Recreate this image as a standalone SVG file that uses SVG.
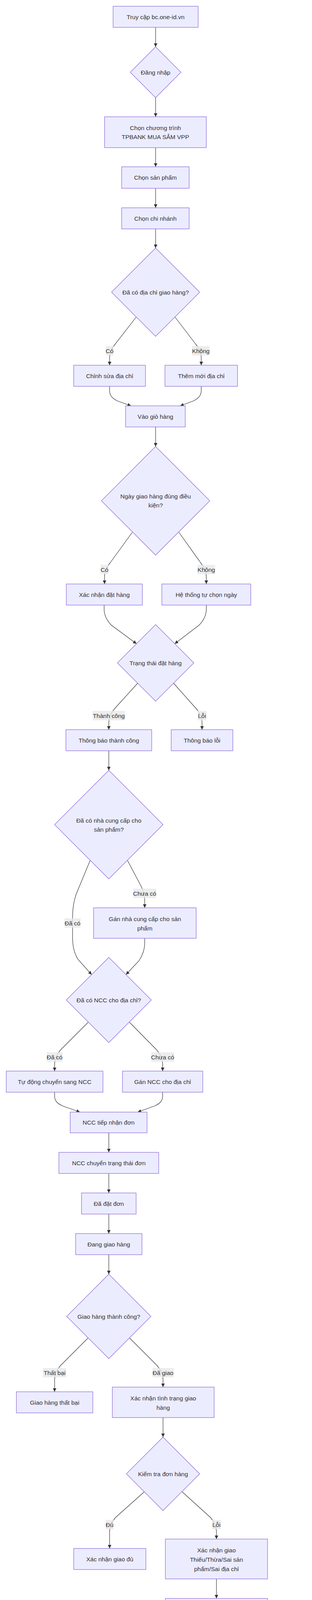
<svg xmlns="http://www.w3.org/2000/svg" width="800" height="4947" viewBox="0 0 800 4947">
<style>
.n rect,.n polygon{fill:#ECECFF;stroke:#9370DB;stroke-width:1.3}
text{font-family:"Liberation Sans",Arial,sans-serif;font-size:15.5px;fill:#333;text-anchor:middle}
.e path{fill:none;stroke:#333;stroke-width:1.2;marker-end:url(#arr)}
.l rect{fill:#e8e8e8;fill-opacity:0.8}
</style>
<defs>
<marker id="arr" viewBox="0 0 10 10" refX="10" refY="5" markerWidth="9" markerHeight="9" markerUnits="userSpaceOnUse" orient="auto">
<path d="M0,0 L10,5 L0,10 z" fill="#333"/>
</marker>
</defs>
<g id="connectors" class="e">
<path d="M399,70 L399,120"/>
<path d="M399,250 L399,299"/>
<path d="M399,378 L399,427"/>
<path d="M399,482 L399,532"/>
<path d="M399,586 L399,635"/>
<path d="M349,812 L296,880 Q281,898 281,916 L281,935"/>
<path d="M449,812 L501,880 Q516,898 516,916 L516,935"/>
<path d="M281,989 L281,1000 C281,1013 289,1020 300,1026 L336,1039"/>
<path d="M516,989 L516,1000 C516,1013 508,1020 497,1026 L462,1039"/>
<path d="M399,1093 L399,1143"/>
<path d="M339,1363 L283,1440 Q268,1458 268,1476 L268,1495"/>
<path d="M459,1363 L514,1440 Q529,1458 529,1476 L529,1495"/>
<path d="M267,1549 L267,1560 C267,1575 273,1587 285,1600 L350,1648"/>
<path d="M529,1549 L529,1560 C529,1575 523,1587 511,1600 L448,1648"/>
<path d="M353,1749 L294,1814 Q279,1832 279,1850 L279,1868"/>
<path d="M445,1749 L503,1814 Q518,1832 518,1850 L518,1868"/>
<path d="M279,1922 L279,1972"/>
<path d="M231,2203 L195,2290 C188,2310 186,2330 186,2350 L186,2400 C186,2420 190,2440 200,2456 L235,2495"/>
<path d="M327,2203 L362,2269 Q371,2287 371,2305 L371,2324"/>
<path d="M371,2402 L371,2415 C371,2430 366,2445 356,2460 L323,2495"/>
<path d="M226,2617 L155,2688 Q140,2706 140,2724 L140,2742"/>
<path d="M332,2617 L402,2688 Q417,2706 417,2724 L417,2742"/>
<path d="M140,2796 L140,2806 C140,2818 147,2825 160,2831 L205,2847"/>
<path d="M417,2796 L417,2806 C417,2818 410,2825 397,2831 L353,2847"/>
<path d="M279,2900 L279,2950"/>
<path d="M279,3004 L279,3054"/>
<path d="M279,3108 L279,3158"/>
<path d="M279,3212 L279,3262"/>
<path d="M226,3425 L155,3496 Q140,3514 140,3532 L140,3563"/>
<path d="M332,3425 L403,3496 Q418,3514 418,3532 L418,3551"/>
<path d="M418,3629 L418,3679"/>
<path d="M370,3819 L296,3885 Q281,3903 281,3921 L281,3964"/>
<path d="M467,3819 L540,3885 Q555,3903 555,3921 L555,3940"/>
<path d="M555,4042 L555,4092"/>
<path d="M555,4170 L555,4220"/>
<path d="M555,4298 L555,4348"/>
<path d="M555,4402 L555,4452"/>
<path d="M507,4620 L451,4688 Q436,4706 436,4724 L436,4742"/>
<path d="M605,4620 L659,4688 Q674,4706 674,4724 L674,4742"/>
<path d="M436,4796 L436,4846"/>
</g>
<g id="edge-labels" class="l">
<rect x="271" y="886" width="20" height="24"/><text x="281" y="903.5">Có</text>
<rect x="492.5" y="886" width="45" height="24"/><text x="515" y="903.5">Không</text>
<rect x="258" y="1446" width="20" height="24"/><text x="268" y="1463.5">Có</text>
<rect x="506.5" y="1446" width="45" height="24"/><text x="529" y="1463.5">Không</text>
<rect x="237.5" y="1820" width="83" height="24"/><text x="279" y="1837.5">Thành công</text>
<rect x="507" y="1820" width="22" height="24"/><text x="518" y="1837.5">Lỗi</text>
<rect x="341.5" y="2275" width="59" height="24"/><text x="371" y="2292.5">Chưa có</text>
<rect x="165.5" y="2351" width="41" height="24"/><text x="186" y="2368.5">Đã có</text>
<rect x="119.5" y="2694" width="41" height="24"/><text x="140" y="2711.5">Đã có</text>
<rect x="387.5" y="2694" width="59" height="24"/><text x="417" y="2711.5">Chưa có</text>
<rect x="110" y="3502" width="60" height="24"/><text x="140" y="3519.5">Thất bại</text>
<rect x="391" y="3502" width="54" height="24"/><text x="418" y="3519.5">Đã giao</text>
<rect x="271" y="3891" width="20" height="24"/><text x="281" y="3908.5">Đủ</text>
<rect x="544" y="3891" width="22" height="24"/><text x="555" y="3908.5">Lỗi</text>
<rect x="426" y="4694" width="20" height="24"/><text x="436" y="4711.5">Có</text>
<rect x="651.5" y="4694" width="45" height="24"/><text x="674" y="4711.5">Không</text>
</g>
<g id="n1" class="n"><rect x="290" y="16" width="218" height="54"/><text x="399" y="48.5">Truy cập bc.one-id.vn</text></g>
<g id="d1" class="n"><polygon points="399,120 464,185 399,250 334,185"/><text x="399" y="190.5">Đăng nhập</text></g>
<g id="n2" class="n"><rect x="268" y="299" width="261" height="79"/><text x="398.5" y="332.5">Chọn chương trình</text><text x="398.5" y="355.5">TPBANK MUA SẮM VPP</text></g>
<g id="n3" class="n"><rect x="312" y="427" width="173" height="55"/><text x="398.5" y="460">Chọn sản phẩm</text></g>
<g id="n4" class="n"><rect x="312" y="532" width="173" height="54"/><text x="398.5" y="564.5">Chọn chi nhánh</text></g>
<g id="d2" class="n"><polygon points="399,635 512,748 399,861 286,748"/><text x="399" y="753.5">Đã có địa chỉ giao hàng?</text></g>
<g id="n5" class="n"><rect x="189" y="935" width="184" height="54"/><text x="281" y="967.5">Chỉnh sửa địa chỉ</text></g>
<g id="n6" class="n"><rect x="423" y="935" width="186" height="54"/><text x="516" y="967.5">Thêm mới địa chỉ</text></g>
<g id="n7" class="n"><rect x="322" y="1039" width="153" height="54"/><text x="398.5" y="1071.5">Vào giỏ hàng</text></g>
<g id="d3" class="n"><polygon points="399,1143 538,1282 399,1421 260,1282"/><text x="399" y="1275.5">Ngày giao hàng đúng điều</text><text x="399" y="1298.5">kiện?</text></g>
<g id="n8" class="n"><rect x="170" y="1495" width="195" height="54"/><text x="267.5" y="1527.5">Xác nhận đặt hàng</text></g>
<g id="n9" class="n"><rect x="415" y="1495" width="228" height="54"/><text x="529" y="1527.5">Hệ thống tự chọn ngày</text></g>
<g id="d4" class="n"><polygon points="399,1599 497,1697 399,1795 301,1697"/><text x="399" y="1702.5">Trạng thái đặt hàng</text></g>
<g id="n10" class="n"><rect x="169" y="1868" width="220" height="54"/><text x="279" y="1900.5">Thông báo thành công</text></g>
<g id="n11" class="n"><rect x="439" y="1868" width="158" height="54"/><text x="518" y="1900.5">Thông báo lỗi</text></g>
<g id="d5" class="n"><polygon points="279,1972 418,2111 279,2250 140,2111"/><text x="279" y="2105.5">Đã có nhà cung cấp cho</text><text x="279" y="2128.5">sản phẩm?</text></g>
<g id="n12" class="n"><rect x="240" y="2324" width="263" height="78"/><text x="371.5" y="2357.5">Gán nhà cung cấp cho sản</text><text x="371.5" y="2381.5">phẩm</text></g>
<g id="d6" class="n"><polygon points="279,2451 388,2560 279,2669 170,2560"/><text x="279" y="2565.5">Đã có NCC cho địa chỉ?</text></g>
<g id="n13" class="n"><rect x="16" y="2742" width="248" height="54"/><text x="140" y="2774.5">Tự động chuyển sang NCC</text></g>
<g id="n14" class="n"><rect x="314" y="2742" width="206" height="54"/><text x="417" y="2774.5">Gán NCC cho địa chỉ</text></g>
<g id="n15" class="n"><rect x="180" y="2847" width="197" height="53"/><text x="278.5" y="2879">NCC tiếp nhận đơn</text></g>
<g id="n16" class="n"><rect x="151" y="2950" width="256" height="54"/><text x="279" y="2982.5">NCC chuyển trạng thái đơn</text></g>
<g id="n17" class="n"><rect x="209" y="3054" width="140" height="54"/><text x="279" y="3086.5">Đã đặt đơn</text></g>
<g id="n18" class="n"><rect x="194" y="3158" width="170" height="54"/><text x="279" y="3190.5">Đang giao hàng</text></g>
<g id="d7" class="n"><polygon points="279,3262 387,3370 279,3478 171,3370"/><text x="279" y="3375.5">Giao hàng thành công?</text></g>
<g id="n19" class="n"><rect x="42" y="3563" width="196" height="54"/><text x="140" y="3595.5">Giao hàng thất bại</text></g>
<g id="n20" class="n"><rect x="288" y="3551" width="261" height="78"/><text x="418.5" y="3584.5">Xác nhận tình trạng giao</text><text x="418.5" y="3608.5">hàng</text></g>
<g id="d8" class="n"><polygon points="418,3679 512,3773 418,3867 324,3773"/><text x="418" y="3778.5">Kiểm tra đơn hàng</text></g>
<g id="n21" class="n"><rect x="189" y="3964" width="185" height="54"/><text x="281.5" y="3996.5">Xác nhận giao đủ</text></g>
<g id="n22" class="n"><rect x="424" y="3940" width="262" height="102"/><text x="555" y="3973.5">Xác nhận giao</text><text x="555" y="3997.5">Thiếu/Thừa/Sai sản</text><text x="555" y="4021.5">phẩm/Sai địa chỉ</text></g>
<g id="n23" class="n"><rect x="424" y="4092" width="262" height="78"/><text x="555" y="4125.5">Chọn lỗi: Thiếu/Thừa/Sai</text><text x="555" y="4148.5">sản phẩm/Sai địa chỉ</text></g>
<g id="n24" class="n"><rect x="424" y="4220" width="262" height="78"/><text x="555" y="4253.5">Nhập chi tiết số lượng</text><text x="555" y="4277.5">chênh lệch hoặc mô tả lỗi</text></g>
<g id="n25" class="n"><rect x="466" y="4348" width="178" height="54"/><text x="555" y="4380.5">Hoàn tất báo lỗi</text></g>
<g id="d9" class="n"><polygon points="555,4452 663,4560 555,4668 447,4560"/><text x="555" y="4565.5">Tiến hành bồi thường?</text></g>
<g id="n26" class="n"><rect x="330" y="4742" width="212" height="54"/><text x="436" y="4774.5">Xác nhận bồi thường</text></g>
<g id="n27" class="n"><rect x="592" y="4742" width="164" height="54"/><text x="674" y="4774.5">Chờ xử lý tiếp</text></g>
<g id="n28" class="n"><rect x="305" y="4846" width="261" height="78"/><text x="435.5" y="4879.5">Cập nhật trạng thái sản</text><text x="435.5" y="4902.5">phẩm: Đã xác nhận</text></g>
</svg>
